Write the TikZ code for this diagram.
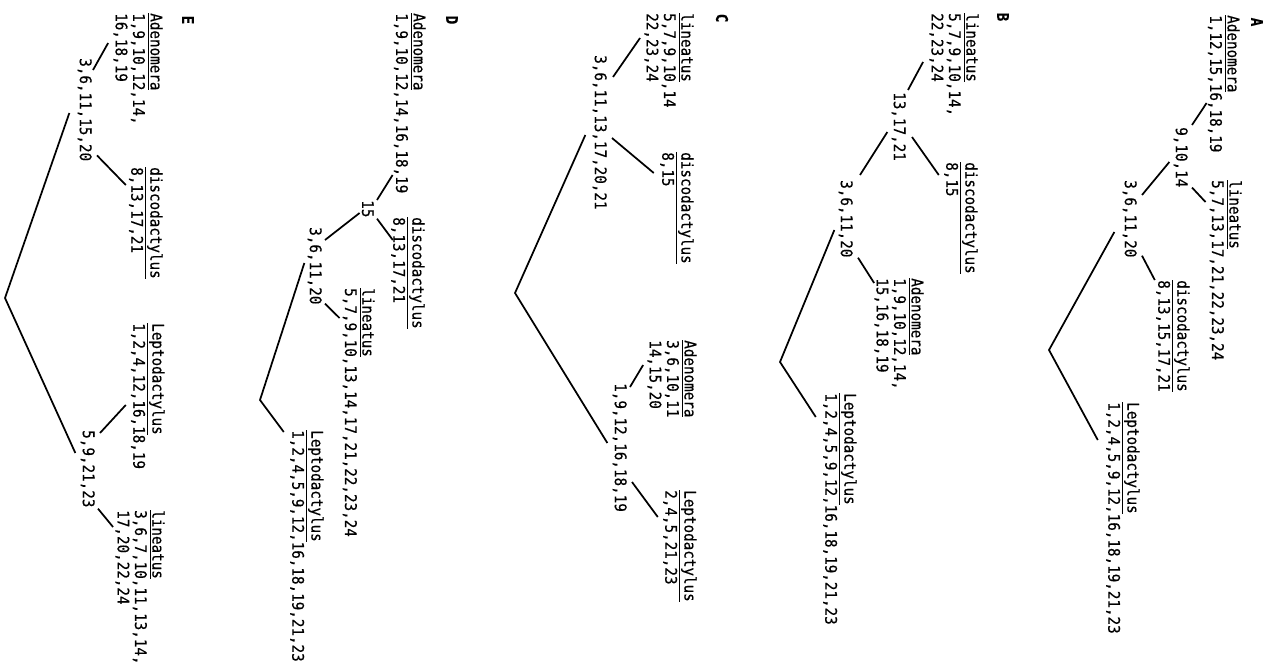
\documentclass[tikz,border=0pt]{standalone}
\usepackage{fontspec}
\newfontfamily\cladfont{DejaVu Sans Mono}[FakeStretch=0.89,FakeBold=0.5]
\usetikzlibrary{calc}
\begin{document}
\begin{tikzpicture}[x=0.75pt,y=-0.75pt,
    clad_text/.style={anchor=north west,rotate=-90,inner sep=0pt,align=left,font=\fontsize{12}{13.1}\selectfont\cladfont},
    clad_tag/.style={rotate=-90,inner sep=0pt,font=\fontsize{12}{13}\selectfont\cladfont\bfseries},
    clad_line/.style={line width=1.3pt}]
    \useasboundingbox (0,0) rectangle (1283,668);
    % A
    \node[clad_tag] (tagA) at (1257,22) {A};
    \node[clad_text] (aAd) at (1240,15) {\underline{Adenomera}\\1,12,15,16,18,19};
    \node[clad_text] (a9) at (1188,127) {9,10,14};
    \node[clad_text] (aLi) at (1242,180) {\underline{lineatus}\\5,7,13,17,21,22,23,24};
    \node[clad_text] (a3) at (1137,180) {3,6,11,20};
    \node[clad_text] (aDi) at (1190,280) {\underline{discodactylus}\\8,13,15,17,21};
    \node[clad_text] (aLe) at (1140,402) {\underline{Leptodactylus}\\1,2,4,5,9,12,16,18,19,21,23};
    \coordinate (aR) at (1049,350);
    \draw[clad_line] ($(aAd.south west)+(-1,88)$) -- ($(a9.north west)+(4,-2)$);
    \draw[clad_line] ($(a9.north east)+(4,0)$) -- ($(aLi.south west)+(-4,22)$);
    \draw[clad_line] ($(a9.south west)+(-4,35)$) -- ($(a3.north west)+(5,15)$);
    \draw[clad_line] ($(a3.north east)+(5,-2)$) -- ($(aDi.south west)+(-1,0)$);
    \draw[clad_line] ($(a3.south west)+(-8,52)$) -- (aR) -- ($(aLe.south west)+(-8,38)$);
    % B
    \node[clad_tag] (tagB) at (1003,17) {B};
    \node[clad_text] (bLi) at (979,13) {\underline{lineatus}\\5,7,9,10,14,\\22,23,24};
    \node[clad_text] (b13) at (906,92) {13,17,21};
    \node[clad_text] (bDi) at (978,162) {\underline{discodactylus}\\8,15};
    \node[clad_text] (b3) at (853,180) {3,6,11,20};
    \node[clad_text] (bAd) at (924,278) {\underline{Adenomera}\\1,9,10,12,14,\\15,16,18,19};
    \node[clad_text] (bLe) at (857,393) {\underline{Leptodactylus}\\1,2,4,5,9,12,16,18,19,21,23};
    \coordinate (bR) at (780,362);
    \draw[clad_line] ($(bLi.south west)+(-6,49)$) -- ($(b13.north west)+(2,-2)$);
    \draw[clad_line] ($(b13.north west)+(6,45)$) -- ($(bDi.south west)+(-5,13)$);
    \draw[clad_line] ($(b13.south west)+(-4,40)$) -- ($(b3.north west)+(7,-5)$);
    \draw[clad_line] ($(b3.north east)+(5,0)$) -- ($(bAd.south west)+(0,5)$);
    \draw[clad_line] ($(b3.south west)+(-4,50)$) -- (bR) -- ($(bLe.south west)+(-7,24)$);
    % C
    \node[clad_tag] (tagC) at (722,18) {C};
    \node[clad_text] (cLi) at (694,13) {\underline{lineatus}\\5,7,9,10,14\\22,23,24};
    \node[clad_text] (c3) at (607,55) {3,6,11,13,17,20,21};
    \node[clad_text] (cDi) at (694,152) {\underline{discodactylus}\\8,15};
    \node[clad_text] (cAd) at (697,340) {\underline{Adenomera}\\3,6,10,11\\14,15,20};
    \node[clad_text] (c1) at (627,383) {1,9,12,16,18,19};
    \node[clad_text] (cLe) at (697,490) {\underline{Leptodactylus}\\2,4,5,21,23};
    \coordinate (cR) at (515,293);
    \draw[clad_line] ($(cLi.south west)+(-4,25)$) -- ($(c3.north west)+(6,22)$);
    \draw[clad_line] ($(c3.north west)+(5,83)$) -- ($(cDi.south west)+(-6,21)$);
    \draw[clad_line] ($(c3.south west)+(-7,80)$) -- (cR) -- ($(c1.south west)+(-5,60)$);
    \draw[clad_line] ($(c1.north west)+(3,4)$) -- ($(cAd.south west)+(-4,25)$);
    \draw[clad_line] ($(c1.north west)+(5,99)$) -- ($(cLe.south west)+(-5,27)$);
    % D
    \node[clad_tag] (tagD) at (452,20) {D};
    \node[clad_text] (dAd) at (426,13) {\underline{Adenomera}\\1,9,10,12,14,16,18,19};
    \node[clad_text] (d15) at (374,200) {15};
    \node[clad_text] (dDi) at (425,217) {\underline{discodactylus}\\8,13,17,21};
    \node[clad_text] (d3) at (322,227) {3,6,11,20};
    \node[clad_text] (dLi) at (375,288) {\underline{lineatus}\\5,7,9,10,13,14,17,21,22,23,24};
    \node[clad_text] (dLe) at (324,430) {\underline{Leptodactylus}\\1,2,4,5,9,12,16,18,19,21,23};
    \coordinate (dR) at (260,400);
    \draw[clad_line] ($(dAd.south west)+(-1,162)$) -- ($(d15.north west)+(3,0)$);
    \draw[clad_line] ($(d15.north east)+(3,1)$) -- ($(dDi.south west)+(2,23)$);
    \draw[clad_line] ($(d15.south west)+(-2,13)$) -- ($(d3.north west)+(3,13)$);
    \draw[clad_line] ($(d3.north east)+(3,-1)$) -- ($(dLi.south west)+(-3,30)$);
    \draw[clad_line] ($(d3.south west)+(-3,36)$) -- (dR) -- ($(dLe.south west)+(-6,2)$);
    % E
    \node[clad_tag] (tagE) at (188,20) {E};
    \node[clad_text] (eAd) at (163,13) {\underline{Adenomera}\\1,9,10,12,14,\\16,18,19};
    \node[clad_text] (e3) at (92,58) {3,6,11,15,20};
    \node[clad_text] (eDi) at (163,167) {\underline{discodactylus}\\8,13,17,21};
    \node[clad_text] (eLe) at (165,323) {\underline{Leptodactylus}\\1,2,4,12,16,18,19};
    \node[clad_text] (e5) at (95,430) {5,9,21,23};
    \node[clad_text] (eLi) at (165,510) {\underline{lineatus}\\3,6,7,10,11,13,14,\\17,20,22,24};
    \coordinate (eR) at (5,298);
    \draw[clad_line] ($(eAd.south west)+(-5,30)$) -- ($(e3.north west)+(1,12)$);
    \draw[clad_line] ($(e3.north east)+(5,-6)$) -- ($(eDi.south west)+(-3,18)$);
    \draw[clad_line] ($(e3.south west)+(-8,55)$) -- (eR) -- ($(e5.south west)+(-5,23)$);
    \draw[clad_line] ($(e5.north west)+(5,3)$) -- ($(eLe.south west)+(-5,82)$);
    \draw[clad_line] ($(e5.north east)+(3,1)$) -- ($(eLi.south west)+(-2,17)$);
\end{tikzpicture}
\end{document}
